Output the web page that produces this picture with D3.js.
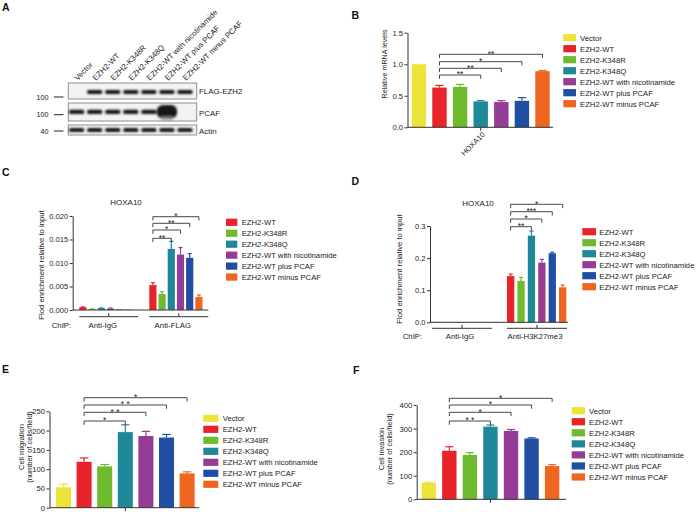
<!DOCTYPE html>
<html><head><meta charset="utf-8">
<script src="https://cdn.jsdelivr.net/npm/d3@7"></script>
<style>
body{margin:0;background:#fff;}
svg{display:block;font-family:"Liberation Sans",Arial,Helvetica,sans-serif;}
</style></head><body>
<svg id="fig" width="696" height="512"></svg>
<script>
// ---------------- DATA ----------------
const seriesNames = ["Vector","EZH2-WT","EZH2-K348R","EZH2-K348Q","EZH2-WT with nicotinamide","EZH2-WT plus PCAF","EZH2-WT minus PCAF"];
const seriesColors = ["#ece43a","#e8232a","#6ebb2f","#1e8798","#953c96","#1f4ea2","#ef6522"];

// Panel A (western blot, relative band intensity per lane)
const blotRows = ["FLAG-EZH2","PCAF","Actin"];
const blotMW = ["100","100","40"];
const flagBands = [0,1,1,1,1,1,1];
const pcafBands = [1,1,1,1,1,3.2,0];
const actinBands = [1,1,1,1,1,1,1];

// Panel B
const mrnaCategory = "HOXA10";
const mrnaValues = [1.0,0.63,0.64,0.41,0.40,0.42,0.89];
const mrnaErrors = [0,0.035,0.04,0.012,0.022,0.05,0.01];
const mrnaTicks = [0,0.5,1.0,1.5];
const mrnaComparisons = [[1,3,"**"],[1,4,"**"],[1,5,"*"],[1,6,"**"]];

// Panel C
const chipFlagGroups = ["Anti-IgG","Anti-FLAG"];
const chipFlagIgG = [0.0006,0.0002,0.0004,0.0003,0.0001,0.0001];
const chipFlagIgGErr = [0.00005,0.00003,0.00005,0.00012,0,0];
const chipFlagValues = [0.0053,0.0034,0.0130,0.0118,0.0111,0.0028];
const chipFlagErrors = [0.0005,0.0005,0.0016,0.0015,0.0009,0.0004];
const chipFlagTicks = [0,0.005,0.010,0.015,0.020];
const chipFlagComparisons = [[0,2,"**"],[0,3,"*"],[0,4,"**"],[0,5,"*"]];

// Panel D
const chipK27Groups = ["Anti-IgG","Anti-H3K27me3"];
const chipK27IgG = [0.0008,0.0004,0.0004,0.0004,0.0004,0.0004];
const chipK27IgGErr = [0,0,0,0,0,0];
const chipK27Values = [0.144,0.129,0.270,0.186,0.215,0.109];
const chipK27Errors = [0.006,0.011,0.014,0.010,0.003,0.007];
const chipK27Ticks = [0,0.1,0.2,0.3];
const chipK27Comparisons = [[0,2,"**"],[0,3,"*"],[0,4,"***"],[0,5,"*"]];

// Panel E
const migrationValues = [53,119,107,196,186,182,89];
const migrationErrors = [8,10,5,19,12,8,4];
const migrationTicks = [0,50,100,150,200,250];
const migrationComparisons = [[1,3,"*"],[1,4,"**"],[1,5,"**"],[1,6,"*"]];

// Panel F
const invasionValues = [70,206,188,308,290,258,141];
const invasionErrors = [2,17,10,7,6,3,6];
const invasionTicks = [0,100,200,300,400];
const invasionComparisons = [[1,3,"**"],[1,4,"*"],[1,5,"*"],[1,6,"*"]];

// ---------------- DRAW ----------------
const svg = d3.select("#fig");
const AX = "#333";
const defs = svg.append("defs");
defs.append("filter").attr("id","blur").attr("x","-50%").attr("y","-50%").attr("width","200%").attr("height","200%")
  .append("feGaussianBlur").attr("stdDeviation",0.8);

// panel letters
[["A",2,10.5],["B",351.5,18.5],["C",2,176],["D",351.5,185],["E",2,372.5],["F",353,373.5]].forEach(d=>{
  svg.append("text").attr("x",d[1]).attr("y",d[2]).attr("font-size",10.5).attr("font-weight","bold").attr("fill","#111").text(d[0]);
});

// ---------- Panel A ----------
(function(){
  const g = svg.append("g");
  const lanes = d3.scaleBand().domain(seriesNames).range([67.6,194]);
  const rowBoxes = [[83,99,92],[103,121,111.8],[125,135,130]];
  const rowData = [flagBands,pcafBands,actinBands];
  rowBoxes.forEach((b,r)=>{
    g.append("rect").attr("x",68.3).attr("y",b[0]).attr("width",128.4).attr("height",b[1]-b[0])
      .attr("fill","#f3f3f3").attr("stroke","#8f8f8f").attr("stroke-width",1);
    const bands = g.append("g").attr("filter","url(#blur)");
    bands.selectAll("rect").data(rowData[r].map((v,i)=>({v,i})).filter(d=>d.v>0)).join("rect")
      .attr("x",d=>lanes(seriesNames[d.i])+lanes.bandwidth()/2-(7.5+(d.v-1)*1.2))
      .attr("width",d=>15+(d.v-1)*2.4)
      .attr("y",d=>b[2]-2.1*d.v).attr("height",d=>4.2*d.v)
      .attr("rx",d=>d.v>1?6:1.5).attr("fill","#141414");
    if(r===1){
      // faint smear under the overexpressed band
      const i = pcafBands.indexOf(d3.max(pcafBands));
      bands.append("rect").attr("x",lanes(seriesNames[i])+lanes.bandwidth()/2-6).attr("y",b[2]+4)
        .attr("width",12).attr("height",5).attr("fill","#999").attr("opacity",0.6);
    }
    g.append("text").attr("x",199).attr("y",[93.8,115.8,133.8][r]).attr("font-size",7.9).attr("fill","#222").text(blotRows[r]);
    const my = [97,114.7,131][r];
    g.append("text").attr("x",48.5).attr("y",my+2.5).attr("text-anchor","end").attr("font-size",7.2).attr("fill","#222").text(blotMW[r]);
    g.append("line").attr("x1",54).attr("x2",63.5).attr("y1",my).attr("y2",my).attr("stroke","#222").attr("stroke-width",1);
  });
  g.selectAll("text.lane").data(seriesNames).join("text").attr("class","lane")
    .attr("transform",d=>`translate(${lanes(d)+lanes.bandwidth()/2+1},81) rotate(-45)`)
    .attr("font-size",7.8).attr("fill","#222").text(d=>d);
})();

// helpers
function yAxis(g, y, x0, ticks, fmt){
  const a = g.append("g").attr("transform",`translate(${x0},0)`)
    .call(d3.axisLeft(y).tickValues(ticks).tickFormat(fmt).tickSize(3).tickSizeOuter(0));
  a.attr("font-family",null).attr("font-size",null);
  a.select(".domain").attr("stroke",AX);
  a.selectAll(".tick line").attr("stroke",AX);
  a.selectAll(".tick text").attr("font-size",7.6).attr("fill","#222").attr("x",-4.5);
}
function bars(g, xs, bw, y, values, errors, colors){
  g.selectAll(null).data(values).join("rect")
    .attr("x",(d,i)=>xs(i)).attr("width",bw)
    .attr("y",d=>y(d)).attr("height",d=>y(0)-y(d)).attr("fill",(d,i)=>colors[i]);
  values.forEach((v,i)=>{
    const e = errors[i]; if(!e) return;
    const cx = xs(i)+bw/2, cw = bw*0.28;
    g.append("line").attr("x1",cx).attr("x2",cx).attr("y1",y(v)).attr("y2",y(v+e)).attr("stroke",colors[i]).attr("stroke-width",1.2);
    g.append("line").attr("x1",cx-cw).attr("x2",cx+cw).attr("y1",y(v+e)).attr("y2",y(v+e)).attr("stroke",colors[i]).attr("stroke-width",1.2);
  });
}
function brackets(g, comps, cxOf, levels, spaced){
  comps.forEach((c,k)=>{
    const x1 = cxOf(c[0]), x2 = cxOf(c[1]), ly = levels[k];
    g.append("path").attr("d",`M${x1},${ly+3.8}V${ly}H${x2}V${ly+3.8}`)
      .attr("fill","none").attr("stroke",AX).attr("stroke-width",0.9);
    g.append("text").attr("x",(x1+x2)/2).attr("y",ly+2.2).attr("text-anchor","middle")
      .attr("font-size",8.5).attr("fill","#222")
      .text(spaced ? c[2].split("").join(" ") : c[2]);
  });
}
function legend(g, names, colors, sx, sw, tx, y0, step){
  names.forEach((n,i)=>{
    const yy = y0+i*step;
    g.append("rect").attr("x",sx).attr("y",yy-3.6).attr("width",sw).attr("height",7.2).attr("fill",colors[i]);
    g.append("text").attr("x",tx).attr("y",yy+2.8).attr("font-size",7.7).attr("fill","#222").text(n);
  });
}
function yLabel(g, lines, x, y, size){
  lines.forEach((t,i)=>{
    g.append("text").attr("transform",`translate(${x[i]},${y}) rotate(-90)`).attr("text-anchor","middle")
      .attr("dominant-baseline","central").attr("font-size",size).attr("fill","#222").text(t);
  });
}

// simple 7-bar panels (B, E, F)
function simplePanel(c){
  const g = svg.append("g");
  const x = d3.scaleBand().domain(d3.range(c.values.length)).range(c.band).paddingInner(c.pi).paddingOuter(c.po);
  const y = d3.scaleLinear().domain([0,d3.max(c.ticks)]).range(c.yRange);
  bars(g, i=>x(i), x.bandwidth(), y, c.values, c.errors, seriesColors);
  yAxis(g, y, c.x0, c.ticks, c.fmt);
  g.append("line").attr("x1",c.x0).attr("x2",c.xEnd).attr("y1",y(0)).attr("y2",y(0)).attr("stroke",AX);
  const mid = (c.band[0]+c.band[1])/2;
  g.append("line").attr("x1",mid).attr("x2",mid).attr("y1",y(0)).attr("y2",y(0)+3.5).attr("stroke",AX);
  brackets(g, c.comps, i=>x(i)+x.bandwidth()/2, c.levels, c.spaced);
  legend(g, seriesNames, seriesColors, c.leg[0], c.leg[1], c.leg[2], c.leg[3], c.leg[4]);
  yLabel(g, c.ylab, c.ylabX, c.ylabY, c.ylabSize);
  if(c.xcat){
    g.append("text").attr("transform",`translate(${mid+3},${y(0)+6}) rotate(-45)`).attr("text-anchor","end")
      .attr("dominant-baseline","central").attr("font-size",7.6).attr("fill","#222").text(c.xcat);
  }
}

simplePanel({values:mrnaValues, errors:mrnaErrors, ticks:mrnaTicks, fmt:d3.format(".1f"),
  band:[408.6,552.8], pi:0.3, po:0.15, yRange:[127.3,32.7], x0:407.5, xEnd:553,
  comps:mrnaComparisons, levels:[75,68.3,61.7,54.3], spaced:false,
  leg:[563.3,12.7,580,37.7,11], ylab:["Relative mRNA levels"], ylabX:[384], ylabY:64, ylabSize:7.2, xcat:mrnaCategory});

simplePanel({values:migrationValues, errors:migrationErrors, ticks:migrationTicks, fmt:d3.format("d"),
  band:[53.2,197.4], pi:0.27, po:0.135, yRange:[507.7,411.3], x0:49.5, xEnd:199,
  comps:migrationComparisons, levels:[421,412.3,405,397.7], spaced:true,
  leg:[203.3,15,222.7,418.3,11], ylab:["Cell migration","(number of cells/field)"], ylabX:[21.7,29.3], ylabY:447, ylabSize:7.5});

simplePanel({values:invasionValues, errors:invasionErrors, ticks:invasionTicks, fmt:d3.format("d"),
  band:[418.5,562.4], pi:0.3, po:0.15, yRange:[499.3,405], x0:416.7, xEnd:566,
  comps:invasionComparisons, levels:[421,412.3,405,398.3], spaced:true,
  leg:[571.7,13.3,589,410.7,11.05], ylab:["Cell invasion","(number of cells/field)"], ylabX:[381.7,389.3], ylabY:449, ylabSize:7.5});

// grouped ChIP panels (C, D)
function groupedPanel(c){
  const g = svg.append("g");
  const gx = d3.scaleBand().domain(c.groups).range(c.groupRange).paddingInner(c.gpi).paddingOuter(0);
  const ix = d3.scaleBand().domain(d3.range(6)).range([0,c.innerW]).paddingInner(c.ipi).paddingOuter(0);
  const y = d3.scaleLinear().domain([0,d3.max(c.ticks)]).range(c.yRange);
  const cols = seriesColors.slice(1);
  c.sets.forEach((s,k)=>{
    const g0 = gx(c.groups[k]);
    bars(g, i=>g0+ix(i), ix.bandwidth(), y, s[0], s[1], cols);
  });
  yAxis(g, y, c.x0, c.ticks, c.fmt);
  g.append("line").attr("x1",c.x0).attr("x2",c.xEnd).attr("y1",y(0)).attr("y2",y(0)).attr("stroke",AX);
  c.groups.forEach(gr=>{
    const a = gx(gr), b = a+gx.bandwidth(), m = (a+b)/2;
    g.append("line").attr("x1",a).attr("x2",b).attr("y1",c.gy).attr("y2",c.gy).attr("stroke",AX);
    g.append("line").attr("x1",m).attr("x2",m).attr("y1",c.gy).attr("y2",c.gy-3.5).attr("stroke",AX);
    g.append("text").attr("x",m+c.labOff).attr("y",c.labY).attr("text-anchor","middle").attr("font-size",7.8).attr("fill","#222").text(gr);
  });
  g.append("text").attr("x",c.chipX).attr("y",c.labY).attr("font-size",7.8).attr("fill","#222").text("ChIP:");
  const g1 = gx(c.groups[1]);
  brackets(g, c.comps, i=>g1+ix(i)+ix.bandwidth()/2, c.levels, false);
  legend(g, seriesNames.slice(1), cols, c.leg[0], c.leg[1], c.leg[2], c.leg[3], c.leg[4]);
  yLabel(g, ["Flod enrichment relative to input"], [c.ylabX], c.ylabY, 7.7);
  g.append("text").attr("x",c.title[0]).attr("y",c.title[1]).attr("text-anchor","middle").attr("font-size",8).attr("fill","#222").text("HOXA10");
}

groupedPanel({groups:chipFlagGroups, sets:[[chipFlagIgG,chipFlagIgGErr],[chipFlagValues,chipFlagErrors]],
  ticks:chipFlagTicks, fmt:d3.format(".3f"), groupRange:[79.3,208.3], gpi:11/70, innerW:53.2, ipi:0.22,
  yRange:[310,216], x0:72.7, xEnd:208.3, gy:316.7, labY:327.8, labOff:-6, chipX:51.7,
  comps:chipFlagComparisons, levels:[238.3,230,223.3,216.7],
  leg:[226,11.3,241.7,222.3,10.95], ylabX:41.7, ylabY:265, title:[126,204.5]});

groupedPanel({groups:chipK27Groups, sets:[[chipK27IgG,chipK27IgGErr],[chipK27Values,chipK27Errors]],
  ticks:chipK27Ticks, fmt:d3.format(".1f"), groupRange:[432,567], gpi:0.2, innerW:59.3, ipi:0.3,
  yRange:[322.3,226], x0:430, xEnd:568, gy:328.3, labY:339.3, labOff:-2, chipX:402.7,
  comps:chipK27Comparisons, levels:[226.7,219,211.7,204.3],
  leg:[582.3,13.7,599.3,231.7,11], ylabX:399, ylabY:269, title:[478,205.5]});
</script>
</body></html>
